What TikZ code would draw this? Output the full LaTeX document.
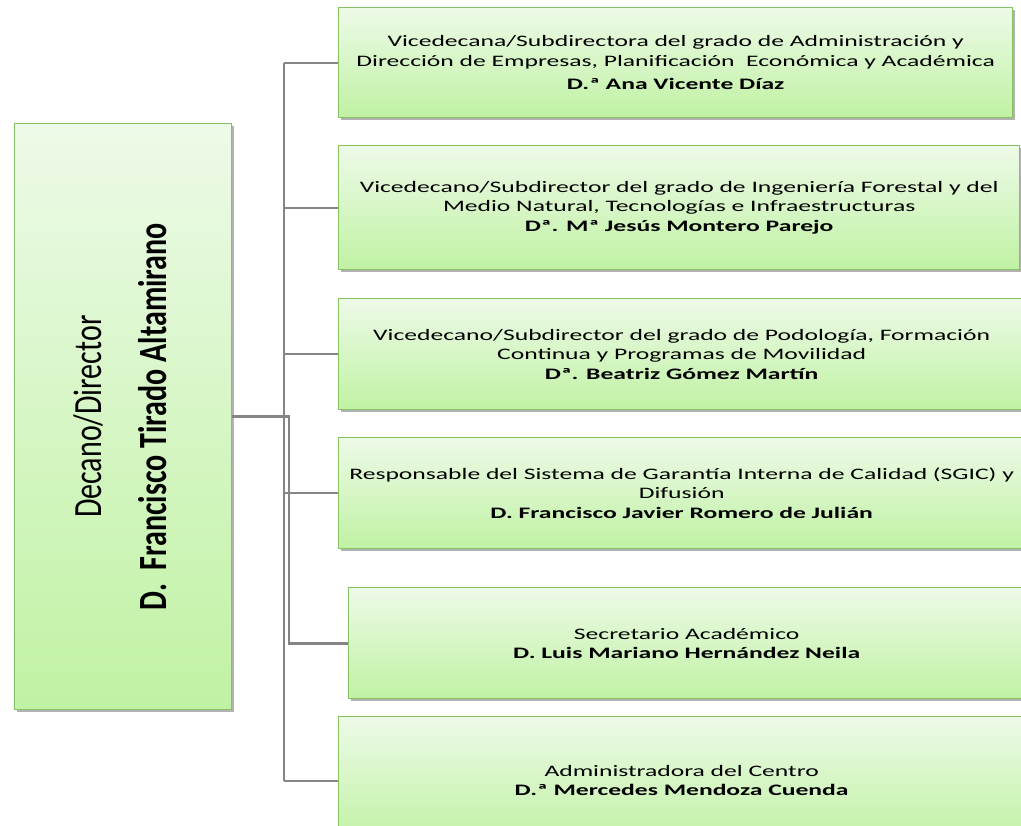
\documentclass[tikz,border=0pt]{standalone}
\usepackage{fontspec}
\setmainfont[FakeStretch=1.6]{Carlito}
\newfontfamily\deanfont[FakeStretch=0.75]{Carlito}
\usepackage{xcolor}
\usetikzlibrary{shadows}

\definecolor{boxtop}{HTML}{EDFAE8}
\definecolor{boxbot}{HTML}{C0F2A3}
\definecolor{boxline}{HTML}{86C263}
\definecolor{linkgray}{HTML}{858585}

\begin{document}
\begin{tikzpicture}[x=0.75pt,y=-0.75pt,
    unit/.style={draw=boxline, line width=1pt, top color=boxtop, bottom color=boxbot,
        anchor=north west, inner sep=0pt, align=center, font=\fontsize{12}{14.5}\selectfont,
        drop shadow={shadow xshift=2pt, shadow yshift=-2pt, fill=black!50, opacity=0.6}},
    trunk/.style={draw=linkgray, line width=2pt},
    branch/.style={draw=linkgray, line width=1.4pt}]
    \clip (0,0) rectangle (1021,825);
    \fill[white] (0,0) rectangle (1021,825);

    % left box
    \node[unit, minimum width=162.75pt, minimum height=439.5pt] (decano) at (14,123) {};
    \node[rotate=90, align=center, font=\deanfont\fontsize{30}{49}\selectfont] (decanotxt) at ([xshift=-2pt]decano.center)
        {Decano/Director\\ \textbf{D.~ Francisco Tirado Altamirano}};

    % right column
    \node[unit, minimum width=505.5pt, minimum height=82.5pt] (b1) at (338,7)
        {Vicedecana/Subdirectora del grado de Administración y\\
         Dirección de Empresas, Planificación~ Económica y Académica\\[3pt]
         \textbf{D.ª Ana Vicente Díaz}};
    \node[unit, minimum width=510.75pt, minimum height=93pt] (b2) at (338,145)
        {Vicedecano/Subdirector del grado de Ingeniería Forestal y del\\
         Medio Natural, Tecnologías e Infraestructuras\\
         \textbf{Dª. Mª Jesús Montero Parejo}};
    \node[unit, minimum width=514.5pt, minimum height=83.25pt] (b3) at (338,298)
        {Vicedecano/Subdirector del grado de Podología, Formación\\
         Continua y Programas de Movilidad\\
         \textbf{Dª. Beatriz Gómez Martín}};
    \node[unit, minimum width=514.5pt, minimum height=83.25pt] (b4) at (338,437)
        {Responsable del Sistema de Garantía Interna de Calidad (SGIC) y\\
         Difusión\\
         \textbf{D. Francisco Javier Romero de Julián}};
    \node[unit, minimum width=507pt, minimum height=83.25pt] (b5) at (348,587)
        {Secretario Académico\\
         \textbf{D. Luis Mariano Hernández Neila}};
    \node[unit, minimum width=514.5pt, minimum height=96pt] (b6) at (338,716)
        {Administradora del Centro\\
         \textbf{D.ª Mercedes Mendoza Cuenda}};

    % connectors
    \coordinate (trunkx) at (284,0);
    \coordinate (spurx) at (289,0);
    \draw[trunk] (b1.west -| trunkx) -- (b6.west -| trunkx);
    \foreach \b in {b1,b2,b3,b4,b6}
        \draw[branch] (\b.west -| trunkx) -- (\b.west);
    \draw[trunk] (decano.east) -| (b5.west -| spurx) -- (b5.west);
\end{tikzpicture}
\end{document}
